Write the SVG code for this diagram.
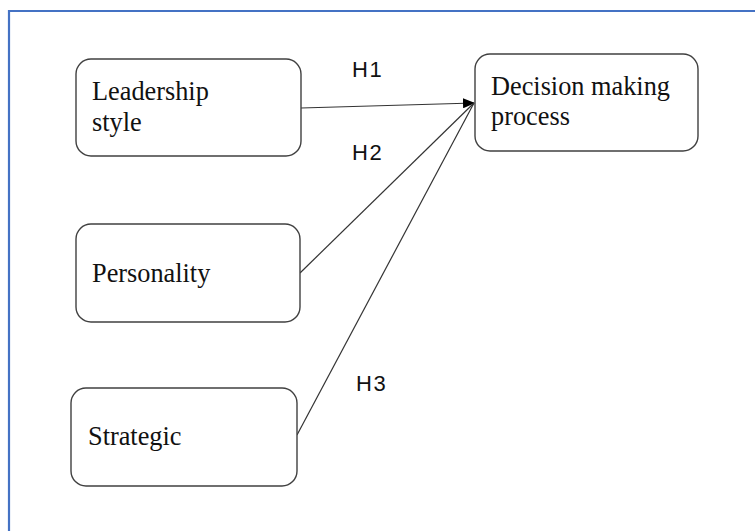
<svg xmlns="http://www.w3.org/2000/svg" width="755" height="531" viewBox="0 0 755 531">
<style>
.box{fill:#fff;stroke:#404040;stroke-width:1.4}
.lbl{font-family:"Liberation Serif","Times New Roman",serif;font-size:26.3px;fill:#111}
.h{font-family:"Liberation Sans",Arial,sans-serif;font-size:22px;fill:#111;letter-spacing:1.5px}
.con{stroke:#333;stroke-width:1.2;fill:none}
</style>
<defs>
<marker id="arr" markerWidth="12" markerHeight="10" refX="11" refY="5" orient="auto" markerUnits="userSpaceOnUse">
<path d="M0,0 L12,5 L0,10 Z" fill="#000"/>
</marker>
</defs>
<rect width="755" height="531" fill="#fff"/>
<path d="M9,531 V11 H755" fill="none" stroke="#4472C4" stroke-width="2.2"/>
<g id="connectors">
<line class="con" x1="301" y1="108" x2="474" y2="103" marker-end="url(#arr)"/>
<line class="con" x1="300" y1="273" x2="474" y2="103"/>
<line class="con" x1="297" y1="435" x2="474" y2="103"/>
</g>
<g id="leadership">
<rect class="box" x="76" y="59" width="225" height="97" rx="15"/>
<text class="lbl" x="92" y="100">Leadership</text>
<text class="lbl" x="92" y="131">style</text>
</g>
<g id="decision">
<rect class="box" x="475" y="54" width="223" height="97" rx="15"/>
<text class="lbl" x="491" y="95">Decision making</text>
<text class="lbl" x="491" y="125">process</text>
</g>
<g id="personality">
<rect class="box" x="76" y="224" width="224" height="98" rx="15"/>
<text class="lbl" x="92" y="282">Personality</text>
</g>
<g id="strategic">
<rect class="box" x="71" y="388" width="226" height="98" rx="15"/>
<text class="lbl" x="88" y="445">Strategic</text>
</g>
<g id="labels">
<text class="h" x="352" y="77">H1</text>
<text class="h" x="352" y="160">H2</text>
<text class="h" x="356" y="391">H3</text>
</g>
</svg>
